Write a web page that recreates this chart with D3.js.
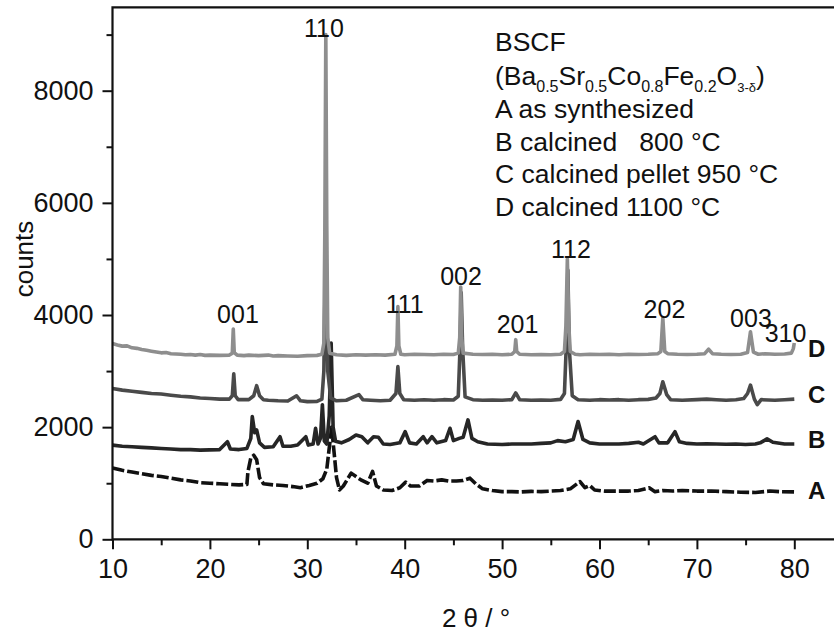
<!DOCTYPE html>
<html>
<head>
<meta charset="utf-8">
<script src="https://cdn.jsdelivr.net/npm/d3@7"></script>
<style>
  body { margin: 0; background: #fff; }
  svg { display: block; }
  text { font-family: "Liberation Sans", Arial, sans-serif; fill: #111; }
</style>
</head>
<body>
<div id="chart"></div>
<script>
// XRD patterns, [2theta, counts]
var curveD = [[10,3490],[10.5,3465],[11,3445],[11.5,3450],[12,3415],[12.5,3405],[13,3385],[13.5,3370],[14,3355],[14.5,3340],[15,3325],[15.5,3330],[16,3310],[16.5,3305],[17,3300],[17.5,3290],[18,3295],[18.5,3285],[19,3295],[19.5,3280],[20,3285],[21,3280],[22,3285],[22.3,3320],[22.4,3750],[22.5,3330],[22.8,3285],[23.5,3275],[24,3285],[25,3275],[26,3285],[26.5,3270],[27,3275],[28,3270],[29,3265],[30,3275],[31,3280],[31.5,3300],[31.7,3500],[31.8,5500],[31.9,9000],[32.0,5600],[32.1,3600],[32.3,3320],[33,3290],[34,3280],[35,3290],[36,3285],[37,3290],[38,3285],[39,3300],[39.2,3450],[39.3,4150],[39.4,3450],[39.6,3300],[40,3290],[41,3300],[42,3295],[43,3290],[44,3300],[45,3295],[45.5,3320],[45.65,3600],[45.75,4500],[45.85,3600],[46,3320],[47,3300],[48,3295],[49,3300],[50,3290],[51,3300],[51.3,3350],[51.4,3560],[51.5,3350],[51.8,3300],[53,3290],[54,3295],[55,3290],[56,3300],[56.4,3350],[56.55,3800],[56.7,5000],[56.85,3800],[57,3350],[57.5,3300],[58,3290],[59,3300],[60,3295],[61,3300],[62,3290],[63,3300],[64,3295],[65,3300],[66,3310],[66.3,3350],[66.5,3950],[66.7,3350],[67,3310],[68,3300],[69,3295],[70,3300],[70.8,3310],[71.2,3390],[71.6,3310],[72.5,3300],[73.5,3295],[74.5,3300],[75.2,3330],[75.5,3700],[75.8,3340],[76.3,3300],[77,3310],[78,3300],[79,3305],[79.7,3320],[79.9,3400],[80,3500]];

var curveC = [[10,2690],[11,2660],[12,2640],[13,2620],[14,2600],[15,2590],[16,2570],[17,2550],[18,2540],[19,2520],[20,2510],[21,2500],[22,2500],[22.3,2560],[22.45,2950],[22.6,2560],[22.9,2490],[24,2490],[24.5,2560],[24.8,2740],[25.1,2560],[25.5,2490],[26,2480],[27,2470],[28,2465],[28.9,2560],[29.3,2470],[30,2455],[31,2460],[31.5,2500],[31.7,3000],[31.9,5500],[32.1,3000],[32.4,2520],[33,2470],[34,2480],[35.3,2580],[35.7,2490],[36.5,2480],[37.5,2470],[38.5,2480],[39.1,2600],[39.3,3080],[39.5,2600],[39.9,2490],[41,2480],[42,2490],[43,2480],[44,2490],[45,2485],[45.5,2550],[45.7,3500],[45.8,4400],[45.95,3400],[46.2,2540],[47,2490],[48,2480],[49,2485],[50,2480],[51,2490],[51.4,2610],[51.8,2490],[53,2480],[54,2485],[55,2480],[56,2495],[56.4,2600],[56.6,3500],[56.75,4800],[56.9,3400],[57.2,2560],[57.8,2490],[59,2480],[60,2490],[61,2485],[62,2490],[63,2480],[64,2490],[65,2495],[65.8,2520],[66.2,2600],[66.5,2810],[66.9,2580],[67.3,2490],[68.5,2480],[70,2490],[71,2500],[72,2490],[73,2480],[74,2490],[74.8,2510],[75.2,2600],[75.5,2750],[75.9,2500],[76.2,2400],[76.6,2490],[78,2480],[79,2490],[80,2500]];

var curveB = [[10,1680],[11,1660],[12,1650],[13,1640],[14,1630],[15,1620],[16,1610],[17,1600],[18,1600],[19,1590],[20,1595],[21,1600],[21.8,1740],[22.1,1610],[23,1600],[23.8,1620],[24.2,1800],[24.35,2190],[24.6,1900],[24.8,1950],[25.1,1720],[25.6,1640],[26.5,1650],[27.2,1830],[27.5,1660],[28.3,1660],[29,1680],[29.85,1830],[30.1,1680],[30.6,1700],[30.85,1980],[31.1,1700],[31.35,1800],[31.55,2400],[31.75,1750],[32.0,1700],[32.25,2200],[32.45,3500],[32.65,2000],[32.9,1750],[33.5,1720],[34.3,1780],[35,1860],[35.6,1830],[36.2,1720],[36.8,1830],[37.3,1820],[37.8,1700],[38.5,1690],[39.5,1720],[40.05,1920],[40.5,1720],[41.2,1700],[41.9,1830],[42.3,1720],[42.8,1830],[43.3,1720],[44.2,1760],[44.65,1980],[45.0,1760],[45.6,1800],[46.0,1820],[46.5,2130],[46.9,1800],[47.5,1740],[48.5,1700],[50,1690],[51,1700],[52,1700],[53,1700],[54,1710],[55,1720],[55.7,1760],[56.5,1740],[57.3,1780],[57.8,2100],[58.3,1780],[59,1720],[60,1700],[61,1700],[62,1700],[63,1710],[64,1730],[64.5,1700],[65.7,1830],[66.1,1720],[67,1720],[67.75,1920],[68.2,1740],[69,1710],[70,1700],[71,1705],[72,1700],[73,1695],[74,1700],[75,1690],[76,1700],[76.5,1720],[77.2,1790],[77.8,1730],[79,1700],[80,1700]];

var curveA = [[10,1270],[11,1230],[12,1200],[13,1170],[14,1140],[15,1120],[16,1090],[17,1060],[18,1040],[19,1010],[20,1000],[21,990],[22,980],[23,970],[23.8,980],[23.9,1200],[24.2,1450],[24.5,1500],[24.8,1420],[25.1,1100],[25.5,990],[26.5,970],[27.5,960],[28.5,940],[29.3,920],[30.2,960],[31,1000],[31.6,1080],[32.0,1250],[32.5,2000],[33.0,1100],[33.3,880],[33.7,950],[34.5,1180],[35,1120],[35.5,1060],[36.2,1000],[36.7,1210],[37.1,950],[37.8,880],[38.7,870],[39.5,920],[40.1,1020],[40.6,950],[41.5,950],[42.3,1050],[43,1040],[43.8,1060],[44.5,1040],[45.3,1040],[46,1050],[46.7,1090],[47.3,990],[48,900],[49,870],[50,850],[51,850],[52,845],[53,855],[54,850],[55,860],[56,870],[57,900],[58,1030],[58.5,920],[59,960],[59.5,880],[60.5,860],[62,860],[63,860],[64,870],[65.1,920],[65.7,850],[66.5,870],[67.5,860],[68.5,870],[70,860],[71.5,860],[73,850],[74.5,840],[76,835],[77.5,860],[78.5,850],[80,845]];

var curveNames = ['A', 'B', 'C', 'D'];
var xTicks = [10, 20, 30, 40, 50, 60, 70, 80];
var xMinor = [15, 25, 35, 45, 55, 65, 75];
var yTicks = [0, 2000, 4000, 6000, 8000];
var yMinor = [1000, 3000, 5000, 7000, 9000];

// reflection labels: [label, 2theta of text centre, counts at text baseline]
var peakLabels = [['110', 31.71, 8957], ['001', 22.88, 3857], ['111', 40.0, 4037], ['002', 45.78, 4535],
    ['112', 57.07, 5016], ['201', 51.58, 3681], ['202', 66.67, 3949], ['003', 75.55, 3788], ['310', 79.1, 3518]];
var legendLines = ['BSCF', '', 'A as synthesized', 'B calcined   800 \u00b0C', 'C calcined pellet 950 \u00b0C', 'D calcined 1100 \u00b0C'];

var width = 834, height = 632;
var svg = d3.select('#chart').append('svg')
    .attr('width', width)
    .attr('height', height);

var x = d3.scaleLinear().domain([10, 80]).range([112.5, 794.3]);
var y = d3.scaleLinear().domain([0, 8000]).range([539.3, 90.7]);

var colors = { A: '#111111', B: '#262626', C: '#4a4a4a', D: '#8e8e8e' };
var series = { A: curveA, B: curveB, C: curveC, D: curveD };

var line = d3.line()
    .x(function(d) { return x(d[0]); })
    .y(function(d) { return y(d[1]); });

curveNames.forEach(function(k) {
    svg.append('path')
        .datum(series[k])
        .attr('d', line)
        .attr('fill', 'none')
        .attr('stroke', colors[k])
        .attr('stroke-width', 3.6)
        .attr('stroke-linejoin', 'round')
        .attr('stroke-dasharray', k === 'A' ? '12,3' : null);
});

// axes
var gx = svg.append('g').attr('transform', 'translate(0,' + y(0) + ')');
gx.call(d3.axisBottom(x).tickValues(xTicks).tickSize(10).tickPadding(10).tickFormat(d3.format('d')));
gx.append('g').call(d3.axisBottom(x).tickValues(xMinor).tickSize(6).tickFormat(''));
var gy = svg.append('g').attr('transform', 'translate(' + x(10) + ',0)');
gy.call(d3.axisLeft(y).tickValues(yTicks).tickSize(10).tickPadding(9).tickFormat(d3.format('d')));
gy.append('g').call(d3.axisLeft(y).tickValues(yMinor).tickSize(6).tickFormat(''));

svg.selectAll('.domain').remove();
svg.selectAll('.tick line').attr('stroke', '#111').attr('stroke-width', 2);
svg.selectAll('.tick text').style('font-size', '27px').attr('fill', '#111');

// frame
svg.append('path')
    .attr('d', 'M' + x(86) + ',' + y(9485) + 'H' + x(10) + 'V' + y(0) + 'H' + x(86))
    .attr('fill', 'none')
    .attr('stroke', '#111')
    .attr('stroke-width', 2.2);

// axis titles
svg.append('text')
    .attr('x', 476).attr('y', 627)
    .attr('text-anchor', 'middle')
    .style('font-size', '26px')
    .text('2 \u03b8 / \u00b0');
svg.append('text')
    .attr('transform', 'translate(33,259) rotate(-90)')
    .attr('text-anchor', 'middle')
    .style('font-size', '26px')
    .text('counts');

// peak labels
svg.selectAll('.peak')
    .data(peakLabels)
    .enter().append('text')
    .attr('class', 'peak')
    .attr('x', function(d) { return x(d[1]); })
    .attr('y', function(d) { return y(d[2]); })
    .attr('text-anchor', 'middle')
    .style('font-size', '25px')
    .text(function(d) { return d[0]; });

// curve names
var nameY = { A: 499, B: 448, C: 403, D: 357 };
curveNames.forEach(function(k) {
    svg.append('text')
        .attr('x', 808).attr('y', nameY[k])
        .style('font-size', '24px')
        .style('font-weight', 'bold')
        .text(k);
});

// legend text
var legY = [51, 85, 118, 151, 183, 216];
legendLines.forEach(function(t, i) {
    if (i === 1) return;
    svg.append('text')
        .attr('x', 495).attr('y', legY[i])
        .attr('xml:space', 'preserve')
        .style('white-space', 'pre')
        .style('font-size', '26.5px')
        .text(t);
});
var formula = [['(Ba', 0], ['0.5', 1], ['Sr', 0], ['0.5', 1], ['Co', 0], ['0.8', 1], ['Fe', 0], ['0.2', 1], ['O', 0], ['3-\u03b4', 2], [')', 0]];
var ft = svg.append('text').attr('x', 495).attr('y', legY[1]).style('font-size', '26.5px');
var prev = 0;
formula.forEach(function(p) {
    var off = p[1] ? 7 : 0;
    ft.append('tspan')
        .attr('dy', off - prev)
        .style('font-size', p[1] === 1 ? '16px' : (p[1] === 2 ? '13px' : '26.5px'))
        .text(p[0]);
    prev = off;
});
</script>
</body>
</html>
